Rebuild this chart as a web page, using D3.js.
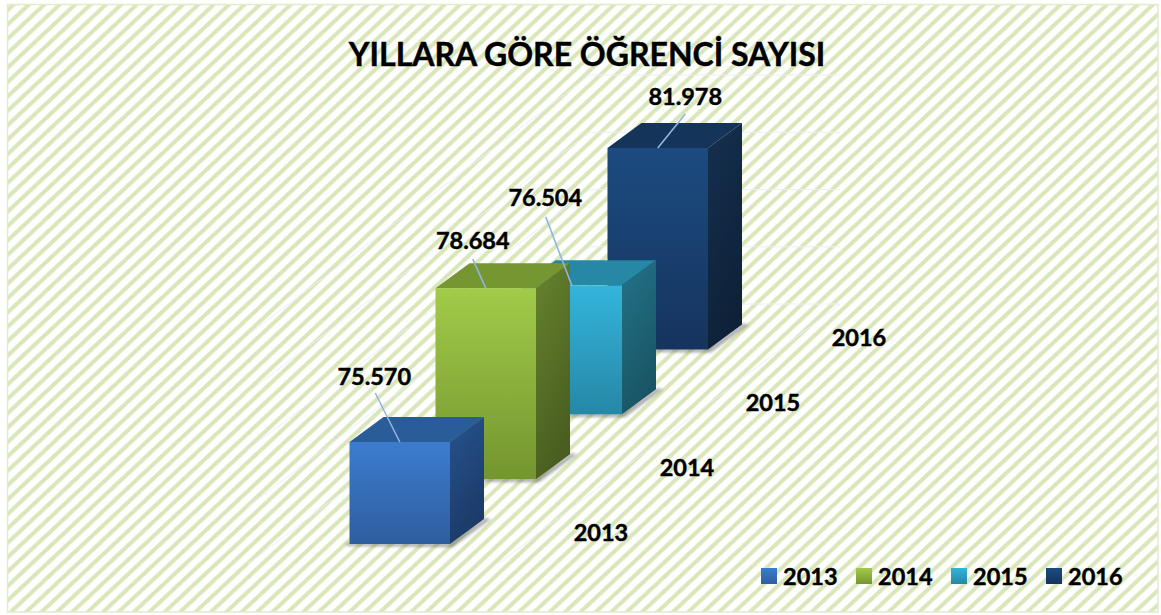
<!DOCTYPE html>
<html>
<head>
<meta charset="utf-8">
<script src="https://cdn.jsdelivr.net/npm/d3@7/dist/d3.min.js"></script>
<style>
html,body{margin:0;padding:0;background:#fff;overflow:hidden}
text{font-family:Lato,"Open Sans",sans-serif;font-weight:700;fill:#000;stroke:#000;stroke-width:0.45px}
</style>
</head>
<body>
<svg id="chart" width="1161" height="615"></svg>
<script>
const titleText = "YILLARA GÖRE ÖĞRENCİ SAYISI";
const categories = ["2013", "2014", "2015", "2016"];
const values = [75570, 78684, 76504, 81978];
const gridLevels = [0, 1, 2, 3, 4];
const frontTop = ["#3c7ccf", "#a1cb49", "#33b5dc", "#1c4b80"];
const frontBottom = ["#2e5e9e", "#74952f", "#2687a6", "#15345e"];
const topFace = ["#2b5c9a", "#769632", "#2688a5", "#143459"];
const sideTop = ["#27538f", "#67832e", "#237389", "#15304f"];
const sideBottom = ["#1b3a67", "#495e20", "#195565", "#0e2138"];

const svg = d3.select("#chart");
const defs = svg.append("defs");
const W = 1161, H = 615;
const stripe = "#d9e6ba";

// background stripes
const tileW = 15.4, tileH = 14.4, band = 6;
const pat = defs.append("pattern").attr("id", "stripes").attr("patternUnits", "userSpaceOnUse")
  .attr("width", tileW).attr("height", tileH);
pat.append("rect").attr("width", tileW).attr("height", tileH).attr("fill", "#fff");
pat.selectAll("path").data([0, tileW, -tileW]).join("path")
  .attr("d", o => `M${o},${tileH}L${o + tileW},0L${o + tileW + band},0L${o + band},${tileH}Z`)
  .attr("fill", stripe);
svg.append("rect").attr("width", W).attr("height", H).attr("fill", "#fff");
svg.append("rect").attr("x", 7.5).attr("y", 4.5).attr("width", 1150.5).attr("height", 607.5)
  .attr("fill", "url(#stripes)").attr("stroke", "#e2ebcc").attr("stroke-width", 1.5);

// scales
const barWidth = 100.5, depthX = 34, depthY = -25;
const x = d3.scaleLinear().domain([0, 3]).range([349.5, 607.5]);
const base = d3.scaleLinear().domain([0, 3]).range([544, 349.5]);
// the source's 3D chart is not proportional: anchored on the four read bar heights
const hgt = d3.scaleLinear().domain([75570, 76504, 78684, 81978]).range([102, 129, 191, 201.5]);
const gridY = d3.scaleLinear().domain([0, 4]).range([304, 75]);
const wallX0 = 590, wallX1 = 840, wallDX = 342, wallDY = 260;

// faint gridlines
const grid = svg.append("g").attr("stroke", "#e9f0fa").attr("stroke-width", 1).attr("fill", "none");
gridLevels.forEach(l => {
  const y = gridY(l);
  grid.append("path").attr("d", d3.line()([[wallX0 - wallDX, y + wallDY], [wallX0, y], [wallX1, y]]));
});
grid.append("path").attr("d", d3.line()([[wallX1, gridY(0)], [wallX1 - wallDX, gridY(0) + wallDY]]));

// filters & gradients
defs.append("filter").attr("id", "soft").attr("x", "-20%").attr("y", "-20%").attr("width", "140%").attr("height", "140%")
  .append("feGaussianBlur").attr("stdDeviation", 1.6);

categories.forEach((c, i) => {
  const g1 = defs.append("linearGradient").attr("id", "front" + i).attr("x1", 0).attr("y1", 0).attr("x2", 0).attr("y2", 1);
  g1.append("stop").attr("offset", 0).attr("stop-color", frontTop[i]);
  g1.append("stop").attr("offset", 1).attr("stop-color", frontBottom[i]);
  const g2 = defs.append("linearGradient").attr("id", "side" + i).attr("x1", 0).attr("y1", 0).attr("x2", 0.35).attr("y2", 1);
  g2.append("stop").attr("offset", 0).attr("stop-color", sideTop[i]);
  g2.append("stop").attr("offset", 1).attr("stop-color", sideBottom[i]);
});

// bars, back to front
const idx = d3.range(categories.length).reverse();
const bars = svg.selectAll("g.bar").data(idx).join("g").attr("class", "bar");
const poly = pts => d3.line()(pts) + "Z";
bars.each(function (i) {
  const g = d3.select(this);
  const l = x(i), r = l + barWidth, b = base(i), t = b - hgt(values[i]);
  g.append("path")
    .attr("d", poly([[l - 3, b - 1], [r, b - 1], [r + depthX + 1, b + depthY - 1], [r + depthX + 7, b + depthY], [r + 3, b + 3], [l - 3, b + 2]]))
    .attr("fill", "#5a5a5a").attr("opacity", 0.5).attr("filter", "url(#soft)");
  g.append("path").attr("d", poly([[l, t], [r, t], [r + depthX, t + depthY], [l + depthX, t + depthY]])).attr("fill", topFace[i]);
  g.append("path").attr("d", poly([[r, t], [r + depthX, t + depthY], [r + depthX, b + depthY], [r, b]])).attr("fill", `url(#side${i})`);
  g.append("rect").attr("x", l).attr("y", t).attr("width", barWidth).attr("height", b - t).attr("fill", `url(#front${i})`);
});

// leader lines and value labels
const fmt = d3.formatLocale({ decimal: ",", thousands: ".", grouping: [3], currency: ["", ""] }).format(",d");
const leaderEnd = [[-24.5, -49], [-13, -29], [-26, -68.5], [27.5, -34]];
const labelAt = [[-25.5, -57], [-13, -39], [-26.5, -79], [27.5, -43]];
categories.forEach((c, i) => {
  const cx = x(i) + barWidth / 2, ty = base(i) - hgt(values[i]);
  svg.append("line").attr("x1", cx).attr("y1", ty)
    .attr("x2", cx + leaderEnd[i][0]).attr("y2", ty + leaderEnd[i][1])
    .attr("stroke", "#8fb5e2").attr("stroke-width", 1.6);
  svg.append("text").attr("x", cx + labelAt[i][0]).attr("y", ty + labelAt[i][1])
    .attr("text-anchor", "middle").attr("font-size", 23.5).text(fmt(values[i]));
  // category labels on the floor
  svg.append("text").attr("x", x(i) + 251.5).attr("y", base(i) - 3.5)
    .attr("text-anchor", "middle").attr("font-size", 23.5).text(c);
});

// title
svg.append("text").attr("x", 587).attr("y", 66).attr("text-anchor", "middle").attr("font-size", 32).text(titleText);

// legend
const legX = d3.scaleLinear().domain([0, 3]).range([761, 1046]);
categories.forEach((c, i) => {
  const gid = "front" + i;
  svg.append("rect").attr("x", legX(i)).attr("y", 568).attr("width", 16).attr("height", 16).attr("fill", `url(#${gid})`);
  svg.append("text").attr("x", legX(i) + 22).attr("y", 585).attr("font-size", 23.5).text(c);
});
</script>
</body>
</html>
